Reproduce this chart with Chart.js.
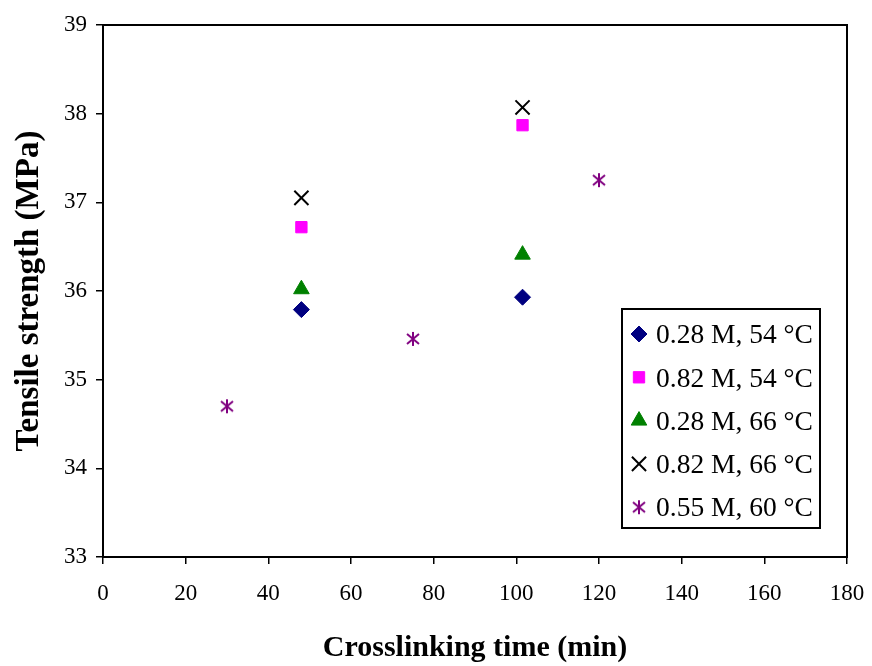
<!DOCTYPE html>
<html>
<head>
<meta charset="utf-8">
<script src="https://cdn.jsdelivr.net/npm/chart.js@4.4.0/dist/chart.umd.min.js"></script>
<style>
  body { margin: 0; background: #fff; }
  #wrap { width: 872px; height: 666px; }
</style>
</head>
<body>
<div id="wrap"><canvas id="myChart" width="872" height="666"></canvas></div>
<script>
// data
const seriesNames = ["0.28 M, 54 °C", "0.82 M, 54 °C", "0.28 M, 66 °C", "0.82 M, 66 °C", "0.55 M, 60 °C"];
const timeA = [48, 101.5];
const strength28_54 = [35.79, 35.93];
const strength82_54 = [36.72, 37.87];
const strength28_66 = [36.02, 36.41];
const strength82_66 = [37.05, 38.07];
const time55 = [30, 75, 120];
const strength55_60 = [34.70, 35.46, 37.25];

const FONT = "'Liberation Serif', 'Times New Roman', serif";

// asterisk marker (vertical + two diagonals), like the original
function makeAsterisk(color) {
  const c = document.createElement("canvas");
  c.width = 16;
  c.height = 16;
  const g = c.getContext("2d");
  g.strokeStyle = color;
  g.lineWidth = 2;
  g.beginPath();
  g.moveTo(8, 1); g.lineTo(8, 15);
  g.moveTo(2, 3); g.lineTo(14, 13);
  g.moveTo(14, 3); g.lineTo(2, 13);
  g.stroke();
  return c;
}
const asterisk = makeAsterisk("#800080");

function pts(xs, ys) {
  return xs.map((x, i) => ({ x: x, y: ys[i] }));
}

const data = {
  datasets: [
    {
      label: seriesNames[0],
      data: pts(timeA, strength28_54),
      pointStyle: "rectRot",
      pointRadius: 8,
      backgroundColor: "#000080",
      borderColor: "#000080",
      borderWidth: 1,
    },
    {
      label: seriesNames[1],
      data: pts(timeA, strength82_54),
      pointStyle: "rect",
      pointRadius: 8,
      backgroundColor: "#FF00FF",
      borderColor: "#FF00FF",
      borderWidth: 1,
    },
    {
      label: seriesNames[2],
      data: pts(timeA, strength28_66),
      pointStyle: "triangle",
      pointRadius: 9,
      backgroundColor: "#008000",
      borderColor: "#008000",
      borderWidth: 1,
    },
    {
      label: seriesNames[3],
      data: pts(timeA, strength82_66),
      pointStyle: "crossRot",
      pointRadius: 10,
      backgroundColor: "#000000",
      borderColor: "#000000",
      borderWidth: 2,
    },
    {
      label: seriesNames[4],
      data: pts(time55, strength55_60),
      pointStyle: asterisk,
      pointRadius: 8,
      backgroundColor: "#800080",
      borderColor: "#800080",
      borderWidth: 1,
    },
  ],
};

// frame around the plot + legend box inside the plot
const framePlugin = {
  id: "frame",
  afterDraw(chart) {
    const ctx = chart.ctx;
    const a = chart.chartArea;
    ctx.save();
    ctx.strokeStyle = "#000";
    ctx.lineWidth = 2;
    ctx.strokeRect(a.left, a.top, a.right - a.left, a.bottom - a.top);

    // legend
    const bx = 622, by = 309, bw = 198, bh = 219;
    ctx.fillStyle = "#fff";
    ctx.fillRect(bx, by, bw, bh);
    ctx.lineWidth = 2;
    ctx.strokeRect(bx, by, bw, bh);
    ctx.font = "27.5px " + FONT;
    ctx.textBaseline = "middle";
    ctx.textAlign = "left";
    chart.data.datasets.forEach((ds, i) => {
      const cy = by + 25 + i * 43.3;
      ctx.fillStyle = ds.backgroundColor;
      ctx.strokeStyle = ds.borderColor;
      ctx.lineWidth = ds.borderWidth;
      Chart.helpers.drawPoint(ctx, {
        pointStyle: ds.pointStyle,
        radius: ds.pointRadius,
        rotation: 0,
        borderWidth: ds.borderWidth,
      }, 639, cy);
      ctx.fillStyle = "#000";
      ctx.fillText(ds.label, 656, cy + 2);
    });
    ctx.restore();
  },
};

const config = {
  type: "scatter",
  data: data,
  options: {
    responsive: false,
    animation: false,
    layout: { padding: { left: 0, top: 25, right: 25, bottom: 0 } },
    plugins: {
      legend: { display: false },
      tooltip: { enabled: false },
    },
    scales: {
      x: {
        min: 0,
        max: 180,
        ticks: { stepSize: 20, color: "#000", font: { family: FONT, size: 23 }, padding: 16, maxRotation: 0 },
        grid: { drawOnChartArea: false, drawTicks: true, tickLength: 7, color: "#000", lineWidth: 1.5 },
        border: { color: "#000", width: 2 },
        title: {
          display: true,
          text: "Crosslinking time (min)",
          color: "#000",
          font: { family: FONT, size: 30, weight: "bold" },
          padding: { top: 18, bottom: 0 },
        },
        afterFit: (s) => { s.height = 109; s.paddingLeft = 0; s.paddingRight = 0; },
      },
      y: {
        min: 33,
        max: 39,
        ticks: { stepSize: 1, color: "#000", font: { family: FONT, size: 23 }, padding: 9 },
        grid: { drawOnChartArea: false, drawTicks: true, tickLength: 7, color: "#000", lineWidth: 1.5 },
        border: { color: "#000", width: 2 },
        title: {
          display: true,
          text: "Tensile strength (MPa)",
          color: "#000",
          font: { family: FONT, size: 33, weight: "bold" },
          padding: { top: 10, bottom: 10 },
        },
        afterFit: (s) => { s.width = 103; s.paddingTop = 0; s.paddingBottom = 0; },
      },
    },
  },
  plugins: [framePlugin],
};

const myChart = new Chart(document.getElementById("myChart"), config);
</script>
</body>
</html>
